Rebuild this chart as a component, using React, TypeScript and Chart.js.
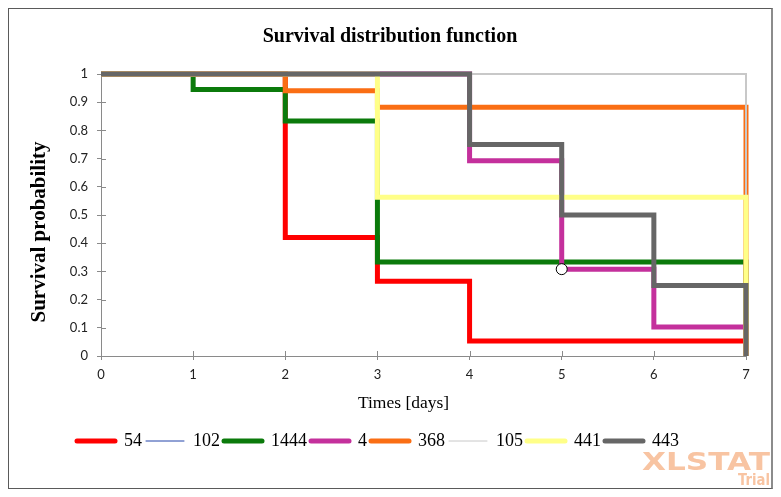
import { useEffect, useRef } from "react";
import { Chart, registerables } from "chart.js";

Chart.register(...registerables);

// ---- data ----
const seriesNames = ["54", "102", "1444", "4", "368", "105", "441", "443"];
const seriesColors = ["#FF0000", "#2244AA", "#0B7A0B", "#C4309C", "#FA6E14", "#C8C8C8", "#FFFF88", "#666666"];
const seriesWidths = [5, 1, 5, 5, 5, 2, 5, 5];
const legendWidths = [5, 1, 5, 5, 5, 1, 5, 5];

const times54 = [0, 2, 3, 4, 7];
const surv54 = [1, 0.42, 0.265, 0.053, 0];
const times102 = [0, 7];
const surv102 = [1, 0];
const times1444 = [0, 1, 2, 3, 7];
const surv1444 = [1, 0.945, 0.833, 0.333, 0];
const times4 = [0, 4, 5, 6, 7];
const surv4 = [1, 0.692, 0.308, 0.103, 0];
const times368 = [0, 2, 3, 7];
const surv368 = [1, 0.941, 0.882, 0];
const times105 = [0, 7];
const surv105 = [1, 0];
const times441 = [0, 3, 7];
const surv441 = [1, 0.563, 0];
const times443 = [0, 4, 5, 6, 7];
const surv443 = [1, 0.75, 0.5, 0.25, 0];

const censoredTimes4 = [5];

const seriesTimes = [times54, times102, times1444, times4, times368, times105, times441, times443];
const seriesSurv = [surv54, surv102, surv1444, surv4, surv368, surv105, surv441, surv443];
const seriesCensored = [[], [], [], censoredTimes4, [], [], [], []];

const xTickValues = [0, 1, 2, 3, 4, 5, 6, 7];
const xTickLabels = ["0", "1", "2", "3", "4", "5", "6", "7"];
const yTickValues = [0, 0.1, 0.2, 0.3, 0.4, 0.5, 0.6, 0.7, 0.8, 0.9, 1];
const yTickLabels = ["0", "0.1", "0.2", "0.3", "0.4", "0.5", "0.6", "0.7", "0.8", "0.9", "1"];

const chartTitle = "Survival distribution function";
const xTitle = "Times [days]";
const yTitle = "Survival probability";

const AXIS_GRAY = "#8a8a8a";

const decorPlugin = {
  id: "decor",
  afterLayout(chart: any) {
    const lg = chart.legend;
    if (lg) {
      lg.left = 64;
    }
  },
  beforeDatasetsDraw(chart: any) {
    const { ctx, chartArea } = chart;
    const { left, right, top, bottom } = chartArea;
    ctx.save();
    // plot frame (top + right)
    ctx.strokeStyle = "#d0d0d0";
    ctx.lineWidth = 1;
    ctx.beginPath();
    ctx.moveTo(left, top + 0.5);
    ctx.lineTo(right - 0.5, top + 0.5);
    ctx.lineTo(right - 0.5, bottom);
    ctx.stroke();
    // inward tick marks
    ctx.strokeStyle = AXIS_GRAY;
    ctx.beginPath();
    const xs = chart.scales.x;
    xs.ticks.forEach((t: any) => {
      const px = Math.round(xs.getPixelForValue(t.value)) + 0.5;
      ctx.moveTo(px, bottom);
      ctx.lineTo(px, bottom - 5);
    });
    const ys = chart.scales.y;
    ys.ticks.forEach((t: any) => {
      const py = Math.round(ys.getPixelForValue(t.value)) + 0.5;
      ctx.moveTo(left, py);
      ctx.lineTo(left + 5, py);
    });
    ctx.stroke();
    ctx.restore();
  },
  afterDraw(chart: any) {
    const { ctx, width } = chart;
    ctx.save();
    // y title
    ctx.fillStyle = "#000";
    ctx.font = "bold 21px 'Liberation Serif'";
    ctx.textAlign = "center";
    ctx.textBaseline = "middle";
    ctx.translate(31, 223);
    ctx.rotate(-Math.PI / 2);
    ctx.fillText(yTitle, 0, 0);
    ctx.restore();

    ctx.save();
    ctx.fillStyle = "#000";
    ctx.font = "17.5px 'Liberation Serif'";
    ctx.textAlign = "center";
    ctx.textBaseline = "middle";
    ctx.fillText(xTitle, 394.5, 394);
    ctx.restore();

    // watermark
    const drawFit = (text: string, rightX: number, baseline: number, size: number, targetW: number) => {
      ctx.save();
      ctx.font = `bold ${size}px 'DejaVu Sans'`;
      const w = ctx.measureText(text).width;
      const sx = targetW / w;
      ctx.translate(rightX - targetW, baseline);
      ctx.scale(sx, 1);
      ctx.fillStyle = "#F8C4A2";
      ctx.textAlign = "left";
      ctx.textBaseline = "alphabetic";
      ctx.fillText(text, 0, 0);
      ctx.restore();
    };
    drawFit("XLSTAT", width - 1, 461, 24, 128);
    drawFit("Trial", width - 1, 476, 15, 32);
  },
};

export default function App() {
  const canvasRef = useRef<HTMLCanvasElement | null>(null);

  useEffect(() => {
    if (!canvasRef.current) return;
    const n = seriesNames.length;
    const datasets = seriesNames.map((name, i) => {
      const times = seriesTimes[i];
      const surv = seriesSurv[i];
      const cens = seriesCensored[i];
      return {
        label: name,
        data: times.map((t, k) => ({ x: t, y: surv[k] })),
        borderColor: seriesColors[i],
        backgroundColor: seriesColors[i],
        borderWidth: seriesWidths[i],
        stepped: true as const,
        fill: false,
        tension: 0,
        clip: false,
        borderJoinStyle: "miter" as const,
        borderCapStyle: "butt" as const,
        pointRadius: times.map((t, k) => (k > 0 && cens.includes(t) ? 5.5 : 0)),
        pointBackgroundColor: "#ffffff",
        pointBorderColor: "#000000",
        pointBorderWidth: 1,
        order: n - i,
      };
    });

    const chart = new Chart(canvasRef.current, {
      type: "line",
      data: { datasets },
      plugins: [decorPlugin],
      options: {
        animation: false,
        responsive: true,
        maintainAspectRatio: false,
        events: [],
        layout: { padding: { left: 0, right: 0, top: 0, bottom: 28 } },
        plugins: {
          title: {
            display: true,
            text: chartTitle,
            color: "#000",
            font: { family: "'Liberation Serif'", size: 20, weight: "bold", lineHeight: 1.2 },
            padding: { top: 16, bottom: 25 },
          },
          legend: {
            display: true,
            position: "bottom",
            align: "start",
            labels: {
              usePointStyle: true,
              pointStyle: "line",
              pointStyleWidth: 38,
              padding: 4,
              color: "#000",
              font: { family: "'Liberation Serif'", size: 18 },
              sort: (a: any, b: any) => a.datasetIndex - b.datasetIndex,
              generateLabels: (c: any) =>
                Chart.defaults.plugins.legend.labels.generateLabels(c).map((it: any) => ({
                  ...it,
                  strokeStyle: seriesColors[it.datasetIndex],
                  fillStyle: seriesColors[it.datasetIndex],
                  lineWidth: legendWidths[it.datasetIndex],
                  lineCap: "round",
                  pointStyle: "line",
                })),
            },
          },
          tooltip: { enabled: false },
        },
        scales: {
          x: {
            type: "linear",
            position: "bottom",
            min: 0,
            max: 7,
            afterBuildTicks: (s: any) => {
              s.ticks = xTickValues.map((v) => ({ value: v }));
            },
            afterFit: (s: any) => {
              s.height = 72;
            },
            ticks: {
              callback: (_v: any, i: number) => xTickLabels[i],
              font: { family: "Lato", size: 13 },
              color: "#222",
              padding: 7,
              maxRotation: 0,
              autoSkip: false,
            },
            grid: { drawOnChartArea: false, drawTicks: true, tickLength: 4, color: AXIS_GRAY },
            border: { color: AXIS_GRAY, width: 1 },
            title: { display: false },
          },
          y: {
            type: "linear",
            position: "left",
            min: 0,
            max: 1,
            afterBuildTicks: (s: any) => {
              s.ticks = yTickValues.map((v) => ({ value: v }));
            },
            afterFit: (s: any) => {
              s.width = 92;
            },
            ticks: {
              callback: (_v: any, i: number) => yTickLabels[i],
              font: { family: "Lato", size: 13 },
              color: "#222",
              padding: 9,
              autoSkip: false,
            },
            grid: { drawOnChartArea: false, drawTicks: true, tickLength: 4, color: AXIS_GRAY },
            border: { color: AXIS_GRAY, width: 1 },
            title: { display: false },
          },
          yRightSpace: {
            type: "linear",
            position: "right",
            display: true,
            afterFit: (s: any) => {
              s.width = 25;
            },
            ticks: { display: false },
            grid: { display: false, drawTicks: false },
            border: { display: false },
          },
        },
      } as any,
    });
    return () => chart.destroy();
  }, []);

  return (
    <div
      style={{
        width: 765,
        height: 481,
        boxSizing: "border-box",
        border: "1px solid #5a5a5a",
        borderRight: "2px solid #8c8c8c",
        background: "#fff",
      }}
    >
      <div style={{ position: "relative", width: "100%", height: "100%" }}>
        <canvas ref={canvasRef} />
      </div>
    </div>
  );
}
